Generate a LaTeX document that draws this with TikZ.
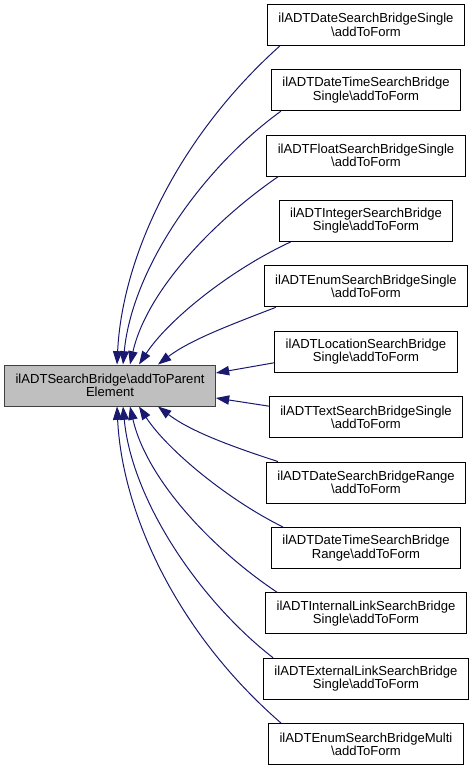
\documentclass[tikz,border=0pt]{standalone}
\usepackage{fontspec}
\setmainfont{Liberation Sans}
\usetikzlibrary{arrows.meta,calc}
\definecolor{edgecol}{RGB}{25,25,112}
\definecolor{hlfill}{RGB}{191,191,191}
\definecolor{hlborder}{RGB}{64,64,64}
\begin{document}
\begin{tikzpicture}[x=0.75pt,y=-0.75pt,
  box/.style={draw=black, fill=white, line width=0.75pt, align=center,
    inner xsep=8.2pt, inner ysep=0pt, minimum height=30.75pt,
    font=\fontsize{9.8pt}{10pt}\selectfont},
  hl/.style={box, fill=hlfill, draw=hlborder},
  edge/.style={draw=edgecol, line width=0.75pt, -{Triangle[length=10pt,width=7pt]}}]
\useasboundingbox (0,0) rectangle (475,771);

\node[hl] (p) at (110,385.5) {ilADTSearchBridge\textbackslash addToParent\\Element};

\node[box] (r1)  at (366,24.75)  {ilADTDateSearchBridgeSingle\\\textbackslash addToForm};
\node[box] (r2)  at (366,90.15)  {ilADTDateTimeSearchBridge\\Single\textbackslash addToForm};
\node[box] (r3)  at (366,155.55) {ilADTFloatSearchBridgeSingle\\\textbackslash addToForm};
\node[box] (r4)  at (366,220.95) {ilADTIntegerSearchBridge\\Single\textbackslash addToForm};
\node[box] (r5)  at (366,286.35) {ilADTEnumSearchBridgeSingle\\\textbackslash addToForm};
\node[box] (r6)  at (366,351.75) {ilADTLocationSearchBridge\\Single\textbackslash addToForm};
\node[box] (r7)  at (366,417.15) {ilADTTextSearchBridgeSingle\\\textbackslash addToForm};
\node[box] (r8)  at (366,482.55) {ilADTDateSearchBridgeRange\\\textbackslash addToForm};
\node[box] (r9)  at (366,547.95) {ilADTDateTimeSearchBridge\\Range\textbackslash addToForm};
\node[box] (r10) at (366,613.35) {ilADTInternalLinkSearchBridge\\Single\textbackslash addToForm};
\node[box] (r11) at (366,678.75) {ilADTExternalLinkSearchBridge\\Single\textbackslash addToForm};
\node[box] (r12) at (366,744.15) {ilADTEnumSearchBridgeMulti\\\textbackslash addToForm};

\draw[edge] ($(r1.south west)+(13,0)$) .. controls (175,140) and (122,260) .. ($(p.north)+(7,0)$);
\draw[edge] ($(r2.south west)+(10,0)$) .. controls (200,170) and (132,270) .. ($(p.north)+(13,0)$);
\draw[edge] ($(r3.south west)+(12,0)$) .. controls (215,220) and (147,290) .. ($(p.north)+(20,0)$);
\draw[edge] ($(r4.south west)+(12,0)$) .. controls (230,270) and (168,320) .. ($(p.north)+(29,0)$);
\draw[edge] ($(r5.south west)+(12,0)$) .. controls (230,325) and (190,340) .. ($(p.north)+(48,0)$);
\draw[edge] ($(r6.west)+(0,11)$) -- ($(p.east)+(0,-12.5)$);
\draw[edge] ($(r7.west)+(0,-11)$) -- ($(p.east)+(0,12.5)$);
\draw[edge] ($(r8.north west)+(12,0)$) .. controls (230,446) and (190,431) .. ($(p.south)+(48,0)$);
\draw[edge] ($(r9.north west)+(12,0)$) .. controls (230,501) and (168,451) .. ($(p.south)+(29,0)$);
\draw[edge] ($(r10.north west)+(12,0)$) .. controls (215,551) and (147,481) .. ($(p.south)+(20,0)$);
\draw[edge] ($(r11.north west)+(10,0)$) .. controls (200,601) and (132,501) .. ($(p.south)+(13,0)$);
\draw[edge] ($(r12.north west)+(13,0)$) .. controls (175,631) and (122,511) .. ($(p.south)+(7,0)$);
\end{tikzpicture}
\end{document}
